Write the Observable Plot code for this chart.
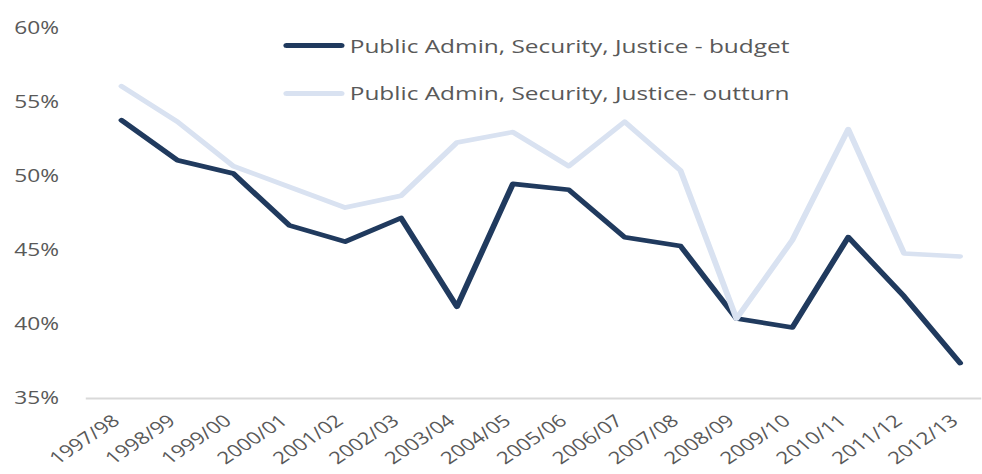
<!DOCTYPE html>
<html>
<head>
<meta charset="utf-8">
<script src="https://cdn.jsdelivr.net/npm/d3@7"></script>
<script src="https://cdn.jsdelivr.net/npm/@observablehq/plot@0.6"></script>
<style>
  html, body { margin: 0; padding: 0; background: #fff; overflow: hidden; }
  #wrap { position: relative; width: 755px; height: 474px; transform: scaleX(1.3); transform-origin: 0 0; font-family: "Open Sans", sans-serif; }
  .leg { position: absolute; left: 0; top: 0; height: 24px; }
  .sw { position: absolute; left: 218px; width: 47px; height: 5px; border-radius: 3px; }
  .lt { position: absolute; left: 269px; white-space: nowrap; font-size: 18.8px; line-height: 24px; color: #595959; }
</style>
</head>
<body>
<div id="wrap"></div>
<script>
const years = ["1997/98","1998/99","1999/00","2000/01","2001/02","2002/03","2003/04","2004/05","2005/06","2006/07","2007/08","2008/09","2009/10","2010/11","2011/12","2012/13"];
const budget = [53.8, 51.1, 50.2, 46.7, 45.6, 47.2, 41.2, 49.5, 49.1, 45.9, 45.3, 40.4, 39.8, 45.9, 41.9, 37.4];
const outturn = [56.1, 53.7, 50.7, 49.3, 47.9, 48.7, 52.3, 53.0, 50.7, 53.7, 50.4, 40.4, 45.7, 53.2, 44.8, 44.6];
const seriesNames = ["Public Admin, Security, Justice - budget", "Public Admin, Security, Justice- outturn"];
const seriesColors = ["#203a5e", "#d9e2f1"];
const yTicks = [35, 40, 45, 50, 55, 60];

const rows = [];
years.forEach((y, i) => rows.push({year: y, value: budget[i], series: seriesNames[0]}));
years.forEach((y, i) => rows.push({year: y, value: outturn[i], series: seriesNames[1]}));

const chart = Plot.plot({
  width: 755,
  height: 474,
  marginLeft: 66,
  marginRight: 0,
  marginTop: 28,
  marginBottom: 76,
  style: {fontFamily: "Open Sans, sans-serif", fontSize: "17.5px", color: "#595959", background: "white"},
  x: {type: "point", domain: years, padding: 0, insetLeft: 21, insetRight: 11},
  y: {domain: [35, 60]},
  color: {domain: seriesNames, range: seriesColors},
  marks: [
    Plot.ruleY([35], {stroke: "#d9d9d9", strokeWidth: 2}),
    Plot.axisY(yTicks, {tickSize: 0, tickPadding: 21, tickFormat: d => d + "%", label: null, fontSize: 17.5}),
    Plot.axisX({tickSize: 0, tickRotate: -41, tickPadding: 20, dx: -4, label: null, fontSize: 17}),
    Plot.line(rows, {x: "year", y: "value", z: "series", stroke: "series", strokeWidth: 4.6, strokeLinejoin: "round", strokeLinecap: "round"})
  ]
});

const wrap = document.getElementById("wrap");
wrap.appendChild(chart);

const legTops = [33.5, 81];
seriesNames.forEach((name, i) => {
  const item = document.createElement("div");
  item.className = "leg";
  item.style.top = legTops[i] + "px";
  const sw = document.createElement("div");
  sw.className = "sw";
  sw.style.top = "9.5px";
  sw.style.background = seriesColors[i];
  const t = document.createElement("div");
  t.className = "lt";
  t.style.top = "0px";
  t.textContent = name;
  item.appendChild(sw);
  item.appendChild(t);
  wrap.appendChild(item);
});
</script>
</body>
</html>
